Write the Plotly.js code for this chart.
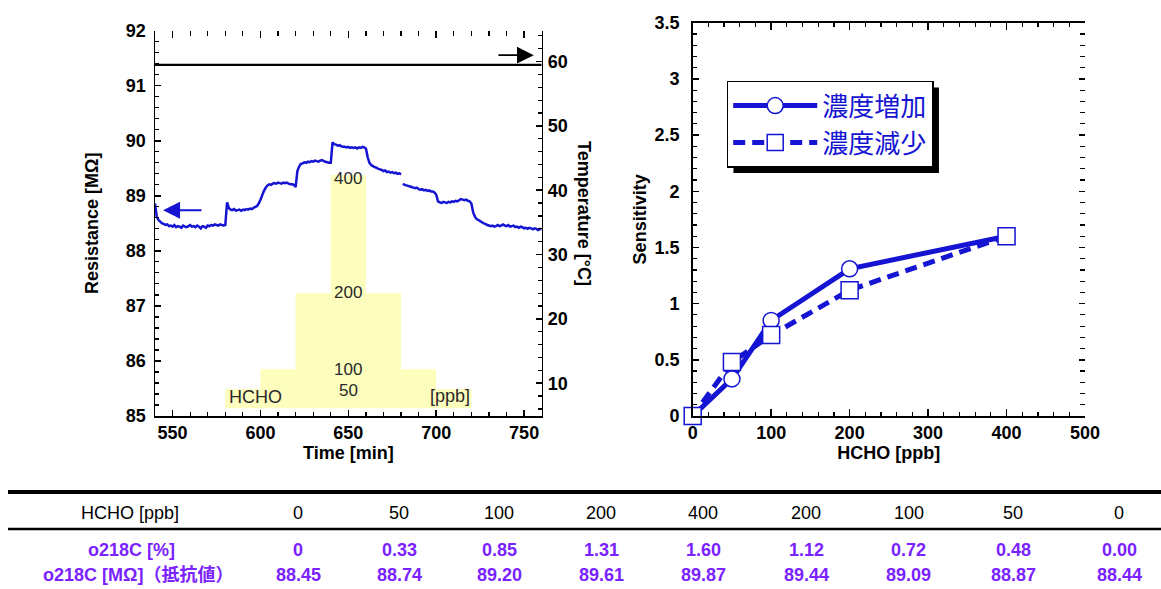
<!DOCTYPE html>
<html><head><meta charset="utf-8">
<script src="https://cdn.plot.ly/plotly-3.0.1.min.js"></script>
<style>html,body{margin:0;padding:0;background:#fff;}#chart{width:1161px;height:589px;}</style>
</head><body><div id="chart"></div>
<script>
// ---------------- DATA ----------------
// Left panel: resistance trace sampled every minute; the record has a short break after 680 min
const timeStep = 1;
const segAStart = 540;
const resistanceSegA = [
 88.86, 88.62, 88.56, 88.53, 88.50, 88.49, 88.47, 88.48, 88.45, 88.46,
 88.44, 88.47, 88.43, 88.45, 88.44, 88.42, 88.46, 88.44, 88.43, 88.45,
 88.47, 88.44, 88.45, 88.43, 88.46, 88.44, 88.41, 88.45, 88.44, 88.42,
 88.46, 88.45, 88.47, 88.46, 88.48, 88.47, 88.46, 88.48, 88.47, 88.46,
 88.47, 88.88, 88.78, 88.75, 88.74, 88.76, 88.73, 88.74, 88.75, 88.73,
 88.75, 88.74, 88.76, 88.75, 88.77, 88.76, 88.78, 88.80, 88.81, 88.86,
 88.93, 89.01, 89.09, 89.15, 89.19, 89.21, 89.20, 89.22, 89.23, 89.22,
 89.24, 89.23, 89.22, 89.24, 89.23, 89.24, 89.22, 89.21, 89.21, 89.20,
 89.16, 89.45, 89.53, 89.58, 89.59, 89.61, 89.60, 89.62, 89.61, 89.63,
 89.62, 89.64, 89.63, 89.62, 89.64, 89.65, 89.63, 89.62, 89.61, 89.60,
 89.60, 89.97, 89.94, 89.93, 89.91, 89.92, 89.90, 89.89, 89.89, 89.88,
 89.89, 89.87, 89.88, 89.87, 89.88, 89.86, 89.88, 89.87, 89.89, 89.88,
 89.86, 89.70, 89.60, 89.56, 89.54, 89.52, 89.51, 89.49, 89.48, 89.47,
 89.45, 89.46, 89.43, 89.44, 89.42, 89.43, 89.41, 89.42, 89.40, 89.41,
 89.39
];
const segBStart = 681;
const resistanceSegB = [
 89.22, 89.20, 89.19, 89.18, 89.17, 89.16, 89.15, 89.14, 89.15,
 89.12, 89.11, 89.12, 89.10, 89.11, 89.09, 89.10, 89.08, 89.08, 89.06,
 89.02, 88.90, 88.88, 88.87, 88.89, 88.88, 88.87, 88.89, 88.88, 88.90,
 88.89, 88.91, 88.90, 88.92, 88.94, 88.93, 88.92, 88.93, 88.91, 88.90,
 88.86, 88.70, 88.62, 88.58, 88.56, 88.54, 88.52, 88.50, 88.49, 88.47,
 88.46, 88.45, 88.46, 88.44, 88.45, 88.47, 88.45, 88.46, 88.48, 88.46,
 88.45, 88.47, 88.44, 88.45, 88.46, 88.43, 88.44, 88.42, 88.44, 88.43,
 88.41, 88.42, 88.40, 88.42, 88.41, 88.39, 88.41, 88.40, 88.38, 88.40,
 88.39
];
// Temperature (right axis)
const tempTime = [540, 580, 620, 660, 700, 740, 760];
const temperature = [59.5, 59.5, 59.45, 59.5, 59.45, 59.5, 59.5];
// HCHO dosing steps (yellow band)
const stepStart = [580, 600, 620, 640, 660, 680, 700];
const stepEnd   = [600, 620, 640, 660, 680, 700, 720];
const stepPpb   = [50, 100, 200, 400, 200, 100, 50];
const stepBandTop = [85.49, 85.85, 87.23, 89.38, 87.23, 85.85, 85.49]; // drawn height, read on resistance axis
const stepBandBase = 85.14;

// Table / right panel
const hchoLevels = [0, 50, 100, 200, 400, 200, 100, 50, 0];
const sensitivity = [0, 0.33, 0.85, 1.31, 1.60, 1.12, 0.72, 0.48, 0.00];
const sensitivityText = ['0', '0.33', '0.85', '1.31', '1.60', '1.12', '0.72', '0.48', '0.00'];
const resistanceMOhm = [88.45, 88.74, 89.20, 89.61, 89.87, 89.44, 89.09, 88.87, 88.44];
const seriesNames = ['濃度増加', '濃度減少'];
const rowLabels = ['HCHO [ppb]', 'o218C [%]', 'o218C [MΩ]（抵抗値）'];

// ---------------- STYLE / LAYOUT ----------------
const W = 1161, H = 589;
const px = v => v / W;
const py = v => 1 - v / H;
const BLUE = '#1414d2';
const PURPLE = '#7a22ff';
const FONT = 'Liberation Sans, Arial, sans-serif';
const tickFont = {family: FONT, size: 18, color: '#000', weight: 'bold'};
const titleFont = {family: FONT, size: 18, color: '#000', weight: 'bold'};

const inc = {x: hchoLevels.slice(0, 5), y: sensitivity.slice(0, 5)};
const dec = {x: hchoLevels.slice(4), y: sensitivity.slice(4)};
const lastEnd = stepEnd[stepEnd.length - 1];

const traces = [
  { // floor of the HCHO band
    type: 'scatter', mode: 'lines', x: [stepStart[0], lastEnd], y: [stepBandBase, stepBandBase],
    line: {width: 0, color: 'rgba(0,0,0,0)'}, xaxis: 'x', yaxis: 'y', showlegend: false, hoverinfo: 'skip'
  },
  { // stepped HCHO band
    type: 'scatter', mode: 'lines', x: stepStart.concat([lastEnd]),
    y: stepBandTop.concat([stepBandTop[stepBandTop.length - 1]]),
    line: {width: 0, shape: 'hv', color: 'rgba(0,0,0,0)'}, fill: 'tonexty', fillcolor: '#fdfdbe',
    xaxis: 'x', yaxis: 'y', showlegend: false, hoverinfo: 'skip'
  },
  {
    type: 'scatter', mode: 'lines', x: tempTime, y: temperature,
    line: {color: '#000', width: 2.2}, xaxis: 'x3', yaxis: 'y2', showlegend: false, hoverinfo: 'skip'
  },
  {
    type: 'scatter', mode: 'lines', x0: segAStart, dx: timeStep, y: resistanceSegA,
    line: {color: BLUE, width: 2.5, simplify: false}, xaxis: 'x4', yaxis: 'y5', showlegend: false, hoverinfo: 'skip'
  },
  {
    type: 'scatter', mode: 'lines', x0: segBStart, dx: timeStep, y: resistanceSegB,
    line: {color: BLUE, width: 2.5, simplify: false}, xaxis: 'x4', yaxis: 'y5', showlegend: false, hoverinfo: 'skip'
  },
  {
    type: 'scatter', mode: 'lines+markers', name: seriesNames[0], x: inc.x, y: inc.y,
    line: {color: BLUE, width: 5}, cliponaxis: false,
    marker: {symbol: 'circle', size: 16, color: '#fff', line: {color: BLUE, width: 1.5}},
    xaxis: 'x2', yaxis: 'y3', hoverinfo: 'skip'
  },
  {
    type: 'scatter', mode: 'lines+markers', name: seriesNames[1], x: dec.x, y: dec.y,
    line: {color: BLUE, width: 5, dash: '12px,7px'}, cliponaxis: false,
    marker: {symbol: 'square', size: 17, color: '#fff', line: {color: BLUE, width: 1.5}},
    xaxis: 'x2', yaxis: 'y4', hoverinfo: 'skip'
  }
];

const axisBase = {
  showline: true, linecolor: '#000', linewidth: 1.5, ticks: 'inside', tickcolor: '#000',
  tickwidth: 1.5, ticklen: 6, showgrid: false, zeroline: false, tickfont: tickFont,
  fixedrange: true
};

const leftX = [px(155), px(541.7)];
const leftY = [py(416), py(30.7)];
const rightX = [px(692.7), px(1085)];
const rightY = [py(416), py(22.7)];

const layout = {
  width: W, height: H, margin: {l: 0, r: 0, t: 0, b: 0},
  paper_bgcolor: '#fff', plot_bgcolor: 'rgba(0,0,0,0)',
  font: {family: FONT, color: '#000'},
  hovermode: false, showlegend: true,
  xaxis: Object.assign({}, axisBase, {
    domain: leftX, anchor: 'y', range: [540, 760], tickmode: 'linear', tick0: 0, dtick: 50,
    minor: {dtick: 10, ticks: 'inside', ticklen: 4, tickwidth: 1.2, tickcolor: '#000', showgrid: false},
    ticklabelstandoff: 0,
    title: {text: 'Time [min]', font: titleFont, standoff: 0}
  }),
  xaxis3: {
    overlaying: 'x', side: 'top', anchor: 'y2', range: [540, 760], showline: false,
    ticks: 'inside', tickmode: 'linear', tick0: 0, dtick: 50, ticklen: 7, tickwidth: 1.5, tickcolor: '#000',
    minor: {dtick: 10, ticks: 'inside', ticklen: 5, tickwidth: 1.2, tickcolor: '#000', showgrid: false},
    showticklabels: false, showgrid: false, zeroline: false, fixedrange: true
  },
  xaxis4: {overlaying: 'x', anchor: 'y5', range: [540, 760], visible: false, fixedrange: true},
  yaxis5: {overlaying: 'y', anchor: 'x4', range: [85, 92], visible: false, fixedrange: true},
  yaxis: Object.assign({}, axisBase, {
    domain: leftY, anchor: 'x', range: [85, 92], tickmode: 'linear', tick0: 0, dtick: 1,
    minor: {dtick: 0.2, ticks: 'inside', ticklen: 4, tickwidth: 1.2, tickcolor: '#000', showgrid: false},
    ticklabelstandoff: 4,
    title: {text: 'Resistance [MΩ]', font: titleFont, standoff: 22}
  }),
  yaxis2: Object.assign({}, axisBase, {
    overlaying: 'y', side: 'right', anchor: 'x', range: [4.9, 64.8], tickmode: 'linear', tick0: 0, dtick: 10,
    minor: {dtick: 2, ticks: 'inside', ticklen: 4, tickwidth: 1.2, tickcolor: '#000', showgrid: false},
    ticklabelstandoff: 1
  }),
  xaxis2: Object.assign({}, axisBase, {
    domain: rightX, anchor: 'y3', range: [0, 500], tickmode: 'linear', tick0: 0, dtick: 100,
    mirror: 'ticks', ticklen: 7,
    minor: {dtick: 20, ticks: 'inside', ticklen: 4, tickwidth: 1.2, tickcolor: '#000', showgrid: false},
    ticklabelstandoff: 0,
    title: {text: 'HCHO [ppb]', font: titleFont, standoff: 0}
  }),
  yaxis3: Object.assign({}, axisBase, {
    domain: rightY, anchor: 'x2', range: [0, 3.5], tickmode: 'linear', tick0: 0, dtick: 0.5,
    minor: {dtick: 0.1, ticks: 'inside', ticklen: 4, tickwidth: 1.2, tickcolor: '#000', showgrid: false},
    ticklabelstandoff: 8,
    title: {text: 'Sensitivity', font: titleFont, standoff: 3}
  }),
  yaxis4: {
    overlaying: 'y3', side: 'right', anchor: 'x2', range: [0, 3.5], showline: false,
    ticks: 'inside', tickmode: 'linear', tick0: 0, dtick: 0.5, ticklen: 6, tickwidth: 1.5, tickcolor: '#000',
    minor: {dtick: 0.1, ticks: 'inside', ticklen: 5, tickwidth: 1.2, tickcolor: '#000', showgrid: false},
    showticklabels: false, showgrid: false, zeroline: false, fixedrange: true
  },
  legend: {
    x: px(726.7), y: py(80.7), xanchor: 'left', yanchor: 'top',
    bgcolor: '#fff', bordercolor: '#000', borderwidth: 1.5,
    font: {family: 'Noto Sans CJK JP, sans-serif', size: 26, color: BLUE},
    itemwidth: 84, tracegroupgap: 0, traceorder: 'normal'
  },
  shapes: [],
  annotations: []
};

// table rules
layout.shapes.push({type: 'line', xref: 'paper', yref: 'paper', x0: px(8), x1: 1, y0: py(492), y1: py(492),
  line: {color: '#000', width: 4}});
layout.shapes.push({type: 'line', xref: 'paper', yref: 'paper', x0: px(8), x1: 1, y0: py(529), y1: py(529),
  line: {color: '#000', width: 2.5}});

// step labels inside the yellow band (centre column)
const bandLabelIdx = [3, 2, 1, 0];
const bandLabelY = [89.32, 87.25, 85.84, 85.47];
const bandFont = {family: FONT, size: 17, color: '#2a2a2a'};
bandLabelIdx.forEach((idx, k) => {
  layout.annotations.push({xref: 'x', yref: 'y', x: 650, y: bandLabelY[k], text: String(stepPpb[idx]),
    showarrow: false, font: bandFont, xanchor: 'center', yanchor: 'middle'});
});
layout.annotations.push({xref: 'x', yref: 'y', x: 597, y: 85.35, text: 'HCHO', showarrow: false,
  font: Object.assign({}, bandFont, {size: 18})});
layout.annotations.push({xref: 'x', yref: 'y', x: 708, y: 85.36, text: '[ppb]', showarrow: false,
  font: Object.assign({}, bandFont, {size: 18})});

// axis arrows
layout.annotations.push({xref: 'x', yref: 'y', axref: 'x', ayref: 'y', x: 544.6, y: 88.74, ax: 567.3, ay: 88.74,
  text: '', showarrow: true, arrowhead: 2, arrowsize: 1.7, arrowwidth: 2, arrowcolor: BLUE});
layout.annotations.push({xref: 'x', yref: 'y2', axref: 'x', ayref: 'y2', x: 755.5, y: 61.0, ax: 734.5, ay: 61.0,
  text: '', showarrow: true, arrowhead: 2, arrowsize: 2.1, arrowwidth: 1.6, arrowcolor: '#000'});

// right-axis title (reads top to bottom)
layout.annotations.push({xref: 'paper', yref: 'paper', x: px(584), y: py(213), text: 'Temperature [°C]',
  textangle: 90, showarrow: false, font: titleFont, xanchor: 'center', yanchor: 'middle'});

// table text
const colX = [298, 399, 499, 601, 703, 806, 909, 1013, 1119];
const rowY = [513, 550, 575];
const labelX = [130, 131, 138];
const headFont = {family: FONT, size: 18, color: '#000'};
const rowFont = {family: 'Liberation Sans, Noto Sans CJK JP, sans-serif', size: 18, color: PURPLE, weight: 'bold'};
const rowValues = [hchoLevels.map(String), sensitivityText, resistanceMOhm.map(v => v.toFixed(2))];
rowLabels.forEach((lab, r) => {
  const f = r === 0 ? headFont : rowFont;
  layout.annotations.push({xref: 'paper', yref: 'paper', x: px(labelX[r]), y: py(rowY[r]), text: lab,
    showarrow: false, font: f, xanchor: 'center', yanchor: 'middle'});
  rowValues[r].forEach((t, c) => {
    layout.annotations.push({xref: 'paper', yref: 'paper', x: px(colX[c]), y: py(rowY[r]), text: t,
      showarrow: false, font: f, xanchor: 'center', yanchor: 'middle'});
  });
});

const gd = document.getElementById('chart');
Plotly.newPlot(gd, traces, layout, {displayModeBar: false, staticPlot: true}).then(() => {
  // drop shadow behind the legend box, sized from the drawn legend
  const bg = gd.querySelector('.legend .bg');
  if (!bg) return;
  const r = bg.getBoundingClientRect();
  const c = gd.getBoundingClientRect();
  const x0 = r.left - c.left + 6, y0 = r.top - c.top + 6;
  const shapes = layout.shapes.concat([{type: 'rect', xref: 'paper', yref: 'paper',
    x0: px(x0), x1: px(x0 + r.width), y0: py(y0 + r.height), y1: py(y0),
    fillcolor: '#000', line: {width: 0}, layer: 'above'}]);
  return Plotly.relayout(gd, {shapes: shapes});
});
</script></body></html>
